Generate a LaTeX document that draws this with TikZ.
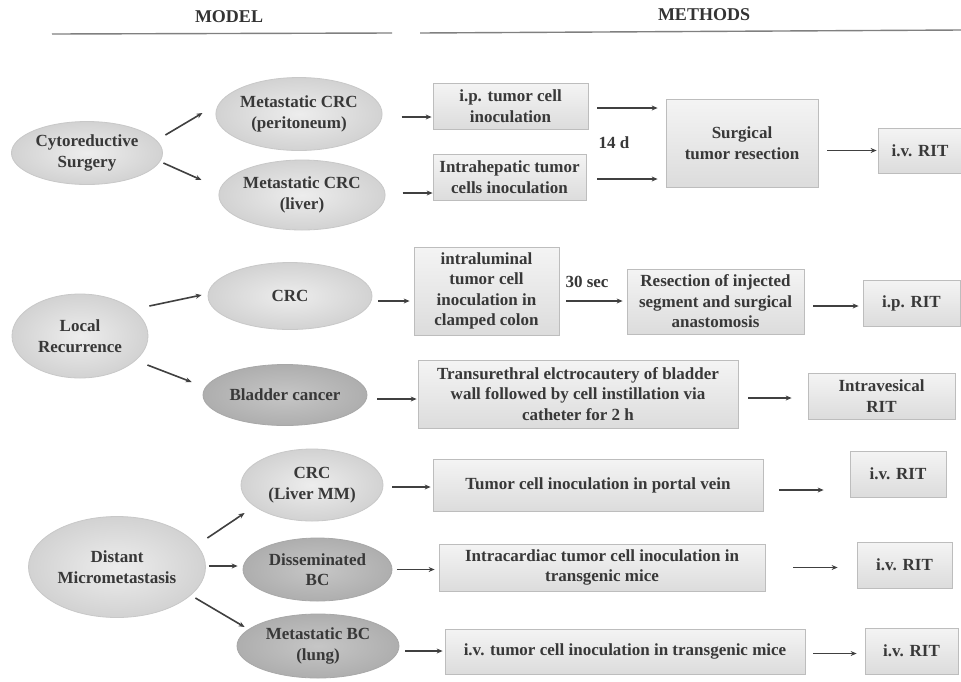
\documentclass[tikz,border=0pt]{standalone}
\usepackage{fontspec}
\setmainfont{Liberation Serif}
\usetikzlibrary{shapes.geometric,arrows.meta,shadows}
\definecolor{txt}{HTML}{383838}
\definecolor{hdrc}{HTML}{333333}
\definecolor{ellborder}{HTML}{C8C8C8}
\definecolor{ellin}{HTML}{EDEDED}
\definecolor{ellout}{HTML}{D2D2D2}
\definecolor{dellborder}{HTML}{A8A8A8}
\definecolor{dellin}{HTML}{C6C6C6}
\definecolor{dellout}{HTML}{AEAEAE}
\definecolor{boxborder}{HTML}{BDBDBD}
\definecolor{boxtop}{HTML}{F4F4F4}
\definecolor{boxbot}{HTML}{DCDCDC}
\definecolor{arrc}{HTML}{404040}
\definecolor{rulec}{HTML}{808080}
\begin{document}
\begin{tikzpicture}[x=1pt,y=-1pt,
  every node/.style={text=txt, font=\fontsize{17}{20.5}\selectfont\bfseries, align=center, inner sep=0pt},
  ell/.style={ellipse, draw=ellborder, line width=0.8pt, inner color=ellin, outer color=ellout},
  dell/.style={ellipse, draw=dellborder, line width=0.8pt, inner color=dellin, outer color=dellout},
  box/.style={rectangle, draw=boxborder, line width=0.8pt, top color=boxtop, bottom color=boxbot,
    drop shadow={shadow xshift=1.2pt, shadow yshift=-1.2pt, fill=black, opacity=0.12}},
  arr/.style={draw=arrc, line width=1.6pt, -{Stealth[length=6pt,width=5pt]}},
  hdr/.style={font=\fontsize{18}{22}\selectfont\bfseries, text=hdrc}]
\fill[white] (0,0) rectangle (961,681);
\useasboundingbox (0,0) rectangle (961,681);

% headers
\node[hdr] (model) at (229,17) {MODEL};
\node[hdr] (methods) at (704,15) {METHODS};
\draw[rulec, line width=1.4pt] (52,34) -- (392,33);
\draw[rulec, line width=1.4pt] (420,33) -- (961,30);

% row 1
\node[ell, minimum width=151pt, minimum height=63pt] (cyto) at (87,153) {Cytoreductive\\Surgery};
\node[ell, minimum width=152pt, minimum height=73pt] (peri) at (299,114) {Metastatic CRC\\(peritoneum)};
\node[ell, minimum width=150pt, minimum height=70pt] (liver) at (302,195) {Metastatic CRC\\(liver)};
\node[box, minimum width=155pt, minimum height=46pt] (ip) at (510.5,106) {i.p. tumor cell\\inoculation};
\node[box, minimum width=153pt, minimum height=46pt] (intrahep) at (509.5,177) {Intrahepatic tumor\\cells inoculation};
\node (fourteen) at (614,143) {14 d};
\node[box, minimum width=152pt, minimum height=88pt] (surg) at (742,143) {Surgical\\tumor resection};
\node[box, minimum width=84pt, minimum height=45pt] (ivrit0) at (920,150.5) {i.v. RIT};

% row 2
\node[ell, minimum width=136pt, minimum height=84pt] (lr) at (80,336) {Local\\Recurrence};
\node[ell, minimum width=164pt, minimum height=67pt] (crc) at (290,296) {CRC};
\node[dell, minimum width=164pt, minimum height=61pt] (bladder) at (285,395) {Bladder cancer};
\node[box, minimum width=145pt, minimum height=88pt] (intra) at (486.5,291) {intraluminal\\tumor cell\\inoculation in\\clamped colon};
\node (thirty) at (587,282) {30 sec};
\node[box, minimum width=177pt, minimum height=65pt] (res) at (715.5,301.5) {Resection of injected\\segment and surgical\\anastomosis};
\node[box, minimum width=97pt, minimum height=46pt] (iprit) at (911.5,303) {i.p. RIT};
\node[box, minimum width=320pt, minimum height=68pt] (trans) at (578,394) {Transurethral elctrocautery of bladder\\wall followed by cell instillation via\\catheter for 2 h};
\node[box, minimum width=147pt, minimum height=46pt] (intraves) at (881.5,396) {Intravesical\\RIT};

% row 3
\node[ell, minimum width=177pt, minimum height=101pt] (dm) at (117,567) {Distant\\Micrometastasis};
\node[ell, minimum width=142pt, minimum height=72pt] (crcl) at (312,485) {CRC\\(Liver MM)};
\node[dell, minimum width=149pt, minimum height=63pt] (dissem) at (317.5,569.5) {Disseminated\\BC};
\node[dell, minimum width=162pt, minimum height=64pt] (metbc) at (318,646) {Metastatic BC\\(lung)};
\node[box, minimum width=330pt, minimum height=52pt] (portal) at (598,485) {Tumor cell inoculation in portal vein};
\node[box, minimum width=326pt, minimum height=47pt] (intracard) at (602,567.5) {Intracardiac tumor cell inoculation in\\transgenic mice};
\node[box, minimum width=360pt, minimum height=45pt] (ivtumor) at (625,651.5) {i.v. tumor cell inoculation in transgenic mice};
\node[box, minimum width=96pt, minimum height=46pt] (ivrit1) at (898,474) {i.v. RIT};
\node[box, minimum width=95pt, minimum height=46pt] (ivrit2) at (904.5,565) {i.v. RIT};
\node[box, minimum width=93pt, minimum height=46pt] (ivrit3) at (911.5,651) {i.v. RIT};

% arrows row 1
\draw[arr] ([xshift=2.5pt,yshift=18pt]cyto.east) -- ([xshift=-13pt,yshift=1pt]peri.west);
\draw[arr] ([xshift=0.5pt,yshift=-10pt]cyto.east) -- ([xshift=-17pt,yshift=15pt]liver.west);
\draw[arr, shorten <=19pt, shorten >=1pt] ([yshift=-3pt]peri.east) -- ([yshift=-3pt]peri.east -| ip.west);
\draw[arr, shorten <=17pt] ([yshift=2pt]liver.east) -- ([yshift=2pt]liver.east -| intrahep.west);
\draw[arr, shorten <=9pt, shorten >=8pt] ([yshift=-2pt]ip.east) -- ([yshift=-2pt]ip.east -| surg.west);
\draw[arr, shorten <=11pt, shorten >=8pt] ([yshift=-2pt]intrahep.east) -- ([yshift=-2pt]intrahep.east -| surg.west);
\draw[arr, shorten <=9pt, shorten >=1pt] (ivrit0.west -| surg.east) -- (ivrit0.west);

% arrows row 2
\draw[arr] ([xshift=1pt,yshift=30pt]lr.east) -- ([xshift=-6pt,yshift=1pt]crc.west);
\draw[arr] ([xshift=-1pt,yshift=-29pt]lr.east) -- ([xshift=-11pt,yshift=13pt]bladder.west);
\draw[arr, shorten <=6pt, shorten >=4pt] ([yshift=-5pt]crc.east) -- ([yshift=-5pt]crc.east -| intra.west);
\draw[arr, shorten <=7pt, shorten >=4pt] ([yshift=-10pt]intra.east) -- ([yshift=-10pt]intra.east -| res.west);
\draw[arr, shorten <=9pt, shorten >=4pt] ([yshift=-3pt]iprit.west -| res.east) -- ([yshift=-3pt]iprit.west);
\draw[arr, shorten <=10pt, shorten >=1pt] ([yshift=-4pt]bladder.east) -- ([yshift=-4pt]bladder.east -| trans.west);
\draw[arr, shorten <=10pt, shorten >=16pt] ([yshift=-4pt]trans.east) -- ([yshift=-4pt]trans.east -| intraves.west);

% arrows row 3
\draw[arr] ([xshift=1.5pt,yshift=29pt]dm.east) -- ([xshift=4pt,yshift=-28pt]crcl.west);
\draw[arr, shorten <=3pt, shorten >=5pt] ([yshift=1pt]dm.east) -- ([yshift=1pt]dm.east -| dissem.west);
\draw[arr] ([xshift=-10.5pt,yshift=-31pt]dm.east) -- ([xshift=8pt,yshift=19pt]metbc.west);
\draw[arr, shorten <=9pt, shorten >=2pt] ([yshift=-2pt]crcl.east) -- ([yshift=-2pt]crcl.east -| portal.west);
\draw[arr, shorten <=16pt, shorten >=26pt] ([yshift=-5pt]portal.east) -- ([yshift=-5pt]portal.east -| ivrit1.west);
\draw[arr, shorten <=4.5pt, shorten >=4pt] (dissem.east) -- (dissem.east -| intracard.west);
\draw[arr, shorten <=28pt, shorten >=19pt] (intracard.east) -- (intracard.east -| ivrit2.west);
\draw[arr, shorten <=6pt, shorten >=2pt] ([yshift=-5pt]metbc.east) -- ([yshift=-5pt]metbc.east -| ivtumor.west);
\draw[arr, shorten <=8pt, shorten >=8pt] ([yshift=-2pt]ivtumor.east) -- ([yshift=-2pt]ivtumor.east -| ivrit3.west);
\end{tikzpicture}
\end{document}
